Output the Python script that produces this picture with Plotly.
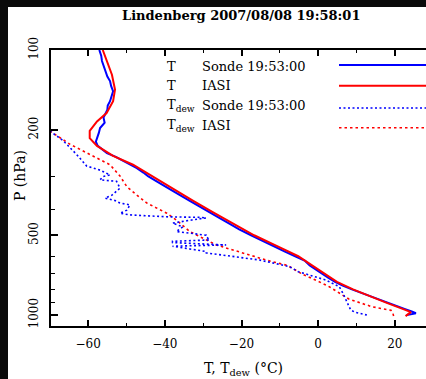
import plotly.graph_objects as go

# ---------------- data ----------------
# Temperature, radiosonde (blue solid)
p_t_sonde = [100, 105, 110, 115, 120, 126, 131, 137, 143, 150, 156, 162, 168, 174, 180, 188, 197, 205,
             215, 222, 230, 237, 245, 253, 262, 270, 279, 290, 299, 315, 330, 350, 370, 390, 410, 430,
             450, 475, 500, 525, 550, 575, 600, 625, 650, 675, 700, 725, 750, 775, 800, 825, 850, 875,
             900, 925, 950, 970, 985, 992, 1000]
t_sonde = [-57.1, -56.6, -56.4, -56.0, -55.6, -55.0, -54.3, -54.0, -53.5, -53.9, -54.3, -54.9, -55.0,
           -55.5, -56.0, -55.7, -56.9, -57.2, -57.7, -58.0, -57.5, -56.5, -55.1, -52.8, -50.9, -49.0,
           -47.3, -45.6, -44.4, -41.8, -39.6, -36.5, -33.6, -31.0, -28.3, -25.8, -23.4, -20.6, -17.5,
           -14.6, -11.7, -8.8, -6.0, -3.4, -2.2, -0.6, 1.0, 2.7, 4.4, 6.4, 8.8, 11.2, 13.6, 15.8, 18.2,
           20.4, 22.7, 24.4, 25.5, 24.5, 23.1]

# Temperature, IASI retrieval (red solid)
p_t_iasi = [100, 110, 124, 141, 156, 173, 186, 202, 215, 230, 251, 271, 296, 330, 370, 410, 450, 500,
            550, 600, 650, 700, 750, 800, 850, 900, 950, 975, 1010]
t_iasi = [-56.2, -55.2, -53.8, -53.0, -53.5, -55.2, -57.7, -59.6, -59.6, -57.7, -53.5, -48.3, -43.9,
          -38.7, -32.7, -27.4, -22.5, -16.7, -10.7, -5.2, -1.6, 1.8, 4.9, 9.1, 13.4, 17.9, 22.2, 24.2, 22.8]

# Dew point, radiosonde (blue dotted)
p_td_sonde = [198, 202, 220, 248, 274, 284, 296, 300, 309, 313, 332, 353, 362, 370, 378, 384, 402, 413,
              419, 422, 426, 428, 430, 438, 450, 465, 484, 500, 506, 521, 527, 533, 544, 550, 576, 583,
              603, 620, 657, 686, 738, 782, 830, 878, 958, 978, 1000]
td_sonde = [-71.0, -70.0, -66.5, -63.0, -60.4, -56.9, -54.3, -56.1, -56.9, -52.6, -51.7, -53.8, -55.6,
            -53.0, -51.7, -49.1, -49.9, -51.7, -49.1, -44.0, -39.5, -30.9, -29.2, -33.0, -38.0, -35.3,
            -37.0, -29.2, -29.2, -28.3, -38.0, -38.0, -24.0, -38.0, -29.2, -29.2, -21.4, -15.3, -7.5,
            -5.2, 2.0, 5.5, 6.5, 7.2, 8.5, 9.8, 12.7]

# Dew point, IASI retrieval (red dotted)
p_td_iasi = [195, 205, 227, 248, 271, 299, 328, 353, 378, 413, 438, 484, 544, 583, 620, 650, 700, 740,
             782, 870, 930, 960, 985, 1010]
td_iasi = [-71.0, -69.4, -64.7, -59.5, -54.3, -51.7, -49.9, -47.3, -44.7, -39.5, -37.0, -33.5, -26.6,
           -19.7, -13.6, -8.0, -4.2, -0.5, 2.9, 8.0, 14.0, 19.0, 19.5, 19.7]

x_ticks = [-60, -40, -20, 0, 20]
x_minor = [-50, -30, -10, 10]
p_ticks = [100, 200, 500, 1000]
p_minor = [300, 400, 600, 700, 800, 900]

title_text = "Lindenberg 2007/08/08 19:58:01"
legend_rows = [
    ("T", "Sonde 19:53:00", "#0000ff", "solid"),
    ("T", "IASI", "#ff0000", "solid"),
    ("T<sub>dew</sub>", "Sonde 19:53:00", "#0000ff", "2px,2.5px"),
    ("T<sub>dew</sub>", "IASI", "#ff0000", "2.5px,3px"),
]

# ---------------- figure ----------------
FONT = "DejaVu Serif"
W, H = 426, 379
L, R, T, B = 51, 0, 50, 53
pw, ph = W - L - R, H - T - B
PX_PER_DEG = 3.833


def px(x):
    return (x - L) / pw


def py(y):
    return (H - B - y) / ph


fig = go.Figure()
fig.add_trace(go.Scatter(x=td_iasi, y=p_td_iasi, mode="lines",
                         line=dict(color="#ff0000", width=1.6, dash="2.5px,3px")))
fig.add_trace(go.Scatter(x=td_sonde, y=p_td_sonde, mode="lines",
                         line=dict(color="#0000ff", width=1.6, dash="2px,2.5px")))
fig.add_trace(go.Scatter(x=t_sonde, y=p_t_sonde, mode="lines",
                         line=dict(color="#0000ff", width=2)))
fig.add_trace(go.Scatter(x=t_iasi, y=p_t_iasi, mode="lines",
                         line=dict(color="#ff0000", width=2)))

annotations = [
    dict(text="<b>" + title_text + "</b>", x=px(241), y=py(15), xref="paper", yref="paper",
         showarrow=False, xanchor="center", yanchor="middle",
         font=dict(family=FONT, size=13, color="black")),
    dict(text="T, T<sub>dew</sub> (°C)", x=px(243), y=py(369), xref="paper", yref="paper",
         showarrow=False, xanchor="center", yanchor="middle",
         font=dict(family=FONT, size=14, color="black")),
    dict(text="P (hPa)", x=px(20), y=py(176), xref="paper", yref="paper", showarrow=False,
         textangle=-90, xanchor="center", yanchor="middle",
         font=dict(family=FONT, size=14, color="black")),
]
shapes = [
    dict(type="rect", xref="paper", yref="paper", x0=px(0), x1=px(W), y0=py(0), y1=py(7),
         fillcolor="#0a0a0a", line=dict(width=0), layer="above"),
    dict(type="rect", xref="paper", yref="paper", x0=px(0), x1=px(8), y0=py(0), y1=py(H),
         fillcolor="#0a0a0a", line=dict(width=0), layer="above"),
]
row_text_y = [66, 85, 105, 125]
row_line_y = [65, 85.7, 108, 127.7]
for (lab, src, col, dash), ty, ly in zip(legend_rows, row_text_y, row_line_y):
    annotations.append(dict(text=lab, x=px(165), y=py(ty), xref="paper", yref="paper",
                            showarrow=False, xanchor="left", yanchor="middle",
                            font=dict(family=FONT, size=13, color="black")))
    annotations.append(dict(text=src, x=px(200), y=py(ty), xref="paper", yref="paper",
                            showarrow=False, xanchor="left", yanchor="middle",
                            font=dict(family=FONT, size=13, color="black")))
    shapes.append(dict(type="line", xref="paper", yref="paper", x0=px(339), x1=px(W + 5),
                       y0=py(ly), y1=py(ly), line=dict(color=col, width=2 if dash == "solid" else 1.6,
                                                       dash=dash)))

fig.update_layout(
    width=W, height=H,
    margin=dict(l=L, r=R, t=T, b=B, pad=0),
    paper_bgcolor="white", plot_bgcolor="white",
    showlegend=False,
    annotations=annotations,
    shapes=shapes,
    font=dict(family=FONT, size=12, color="black"),
)
fig.update_xaxes(
    range=[-69.7, -69.7 + pw / PX_PER_DEG], showline=True, linecolor="black", linewidth=2, mirror="ticks",
    ticks="inside", ticklen=6, tickwidth=1.5, tickcolor="black",
    tickmode="array", tickvals=x_ticks, ticktext=[("−" + str(abs(v))) if v < 0 else str(v) for v in x_ticks],
    minor=dict(tickmode="array", tickvals=x_minor, ticks="inside", ticklen=3, tickwidth=1, tickcolor="black"),
    showgrid=False, zeroline=False, ticklabelstandoff=6,
    tickfont=dict(family=FONT, size=12, color="black"),
)
fig.update_yaxes(
    type="log", range=[3.0414, 2.0], showline=True, linecolor="black", linewidth=2,
    ticks="inside", ticklen=7, tickwidth=1.5, tickcolor="black",
    tickmode="array", tickvals=p_ticks, ticktext=[str(v) for v in p_ticks], tickangle=-90,
    minor=dict(tickmode="array", tickvals=p_minor, ticks="inside", ticklen=4, tickwidth=1, tickcolor="black"),
    showgrid=False, zeroline=False, ticklabelstandoff=6,
    tickfont=dict(family=FONT, size=12, color="black"),
)

fig.write_html(
    "out.html",
    config={"displayModeBar": False},
    post_script="document.body.style.margin='0';document.body.style.overflow='hidden';",
)
